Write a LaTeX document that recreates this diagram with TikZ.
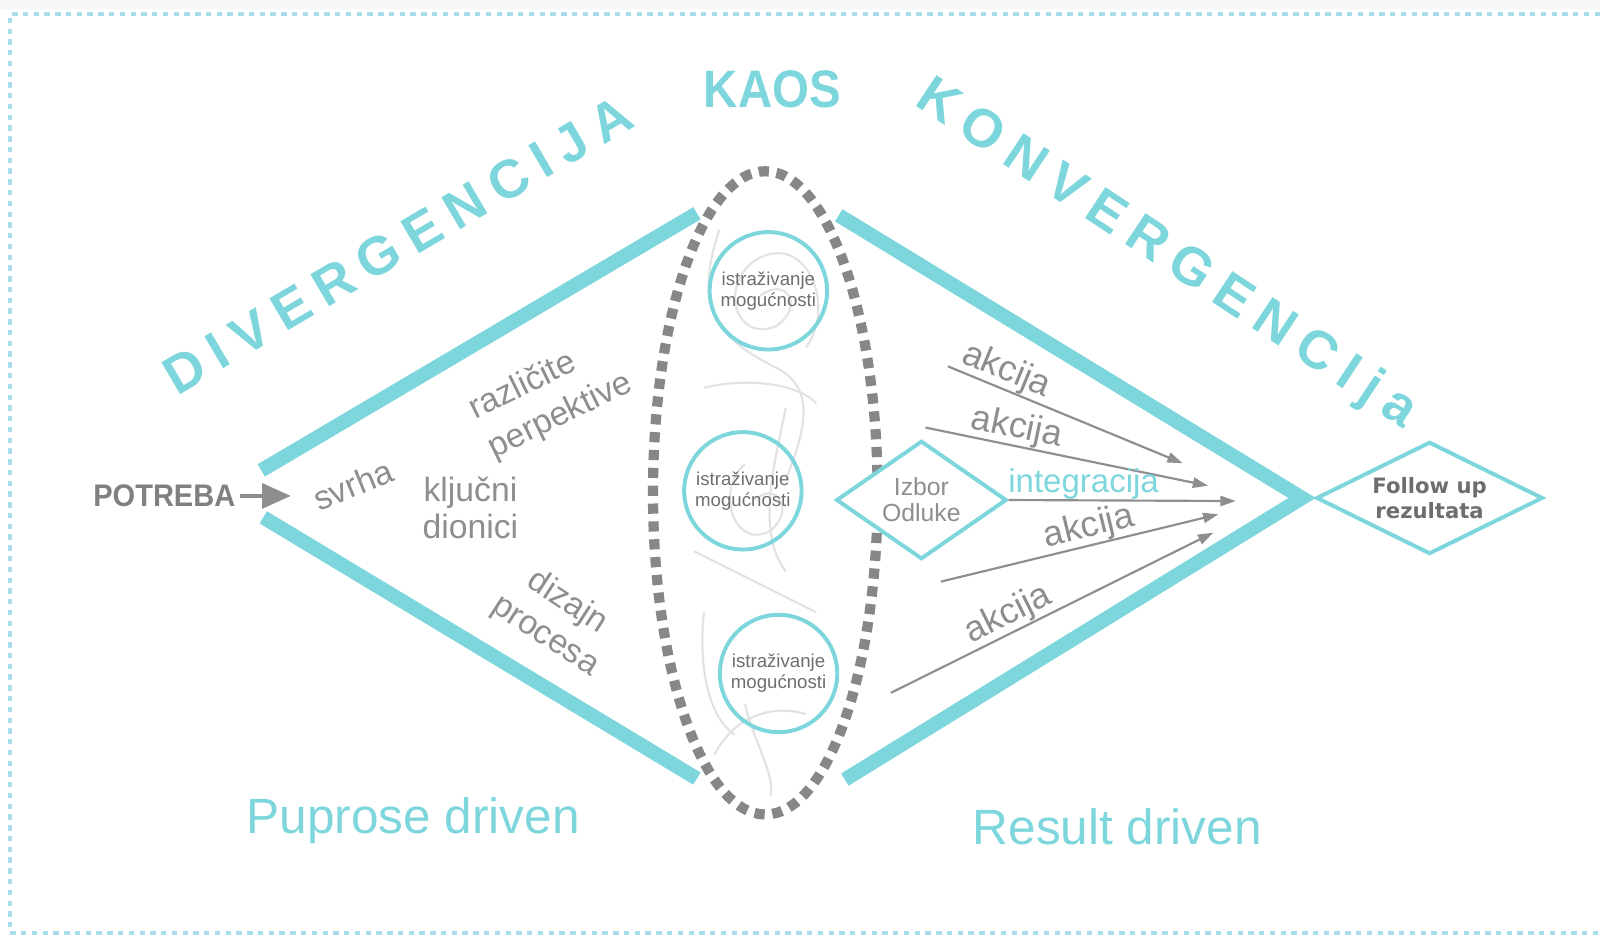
\documentclass[tikz,border=0pt]{standalone}
\usepackage{fontspec}
\setmainfont{Liberation Sans}
\newfontfamily\dejavu{DejaVu Sans}
\usepackage{tikz}
\usetikzlibrary{shapes.geometric,arrows.meta,positioning,calc}

\definecolor{kcyan}{HTML}{7ED6DD}
\definecolor{kgrey}{HTML}{8E8E8E}
\definecolor{kdark}{HTML}{6E6E6E}
\definecolor{kline}{HTML}{878787}
\definecolor{kscrib}{HTML}{E2E2E2}
\definecolor{kframe}{HTML}{A9DDEB}

\begin{document}
\begin{tikzpicture}[
    x=0.01cm, y=-0.01cm,
    side/.style={line width=0.14cm, kcyan},
    idea/.style={circle, draw=kcyan, line width=1.1pt, minimum size=1.15cm, inner sep=0pt, align=center, text=kdark, font=\fontsize{5.2}{5.8}\selectfont},
    choice/.style={diamond, draw=kcyan, fill=white, line width=1.1pt, inner sep=0pt, align=center},
    word/.style={text=kgrey, align=center, font=\fontsize{9.4}{10.4}\selectfont},
    big/.style={text=kcyan, font=\fontsize{13.8}{16}\selectfont},
    spaced/.style={text=kcyan, font={\fontsize{15}{16}\selectfont\bfseries\addfontfeature{LetterSpace=22}}},
    action/.style={-{Triangle[length=0.15cm,width=0.1cm]}, kgrey, line width=0.6pt},
    tag/.style={word, inner sep=0pt, font=\fontsize{10}{11}\selectfont},
    scribble/.style={kscrib, line width=0.6pt}
]

\useasboundingbox (0,0) rectangle (1568,917);
\fill[gray!6] (0,0) rectangle (1568,9);
\draw[kframe, line width=1.2pt, dash pattern=on 1.5pt off 1.5pt] (1568,14) -- (10,14) -- (10,914) -- (1568,914);

% scribbles inside the chaos
\draw[scribble] (705,225) .. controls (680,300) and (700,330) .. (760,360) .. controls (800,380) and (790,420) .. (770,470);
\draw[scribble] (745,290) .. controls (770,270) and (790,300) .. (760,320) .. controls (720,335) and (705,280) .. (740,255) .. controls (790,225) and (820,300) .. (790,340);
\draw[scribble] (690,380) .. controls (730,370) and (780,375) .. (800,395);
\draw[scribble] (770,400) .. controls (760,450) and (740,520) .. (770,560);
\draw[scribble] (740,490) .. controls (760,470) and (780,500) .. (755,520) .. controls (720,540) and (700,480) .. (730,455);
\draw[scribble] (680,540) .. controls (720,560) and (760,580) .. (800,600);
\draw[scribble] (690,600) .. controls (685,640) and (690,700) .. (720,720);
\draw[scribble] (730,690) .. controls (740,730) and (760,760) .. (755,780);
\draw[scribble] (700,740) .. controls (720,700) and (760,690) .. (790,700);

\node[ellipse, draw=kline, line width=0.1cm, dash pattern=on 0.1cm off 0.075cm, minimum width=2.2cm, minimum height=6.3cm] (chaos) at (750,483) {};

% diamond sides
\coordinate (tip) at (1276,488);
\draw[side] (256,461) -- (683,209);
\draw[side] (258,507) -- (683,763);
\draw[side, line join=miter] (822,211) -- (tip) -- (828,764);

% titles
\node[spaced, rotate=30.5] (div) at (390,240) {DIVERGENCIJA};
\node[spaced, rotate=-33.5] (konv) at (1143,250) {KONVERGENCIja};
\node[text=kcyan, font={\fontsize{14.7}{16}\selectfont\bfseries\addfontfeature{FakeStretch=0.9}}] (kaos) at (757,88) {KAOS};
\node[big] (purpose) at (405,804) {Puprose driven};
\node[big] (result) at (1095,810) {Result driven};

% left side
\node[text=kgrey!90!black, inner sep=1pt, font={\fontsize{8.7}{10}\selectfont\bfseries\addfontfeature{FakeStretch=0.93}}] (potreba) at (161,486) {POTREBA};
\coordinate (ulaz) at (285,486);
\draw[-{Triangle[length=0.28cm,width=0.24cm]}, kgrey, line width=1.2pt] (potreba) -- (ulaz);
\node[word, rotate=22] (svrha) at (346,475) {svrha};
\node[word] (dionici) at (461,498) {ključni\\dionici};
\node[word, rotate=26, align=left, font=\fontsize{9.4}{12}\selectfont] (perspektive) at (540,389) {različite\\perpektive};
\node[word, rotate=-33, font=\fontsize{9.4}{11.2}\selectfont] (dizajn) at (545,607) {dizajn\\procesa};

% chaos
\node[idea] (c1) at (753,285) {istraživanje\\mogućnosti};
\node[idea] (c2) at (728,481) {istraživanje\\mogućnosti};
\node[idea] (c3) at (763,660) {istraživanje\\mogućnosti};

% right side
\node[choice, minimum width=1.67cm, minimum height=1.16cm, aspect=1.44, text=kgrey, font=\fontsize{6.9}{7.2}\selectfont] (izbor) at (903,490) {Izbor\\Odluke};
\node[choice, minimum width=2.22cm, minimum height=1.10cm, aspect=2, text=kdark, font=\fontsize{5.9}{7}\selectfont\dejavu\bfseries] (follow) at (1401,488) {Follow up\\rezultata};

\coordinate (a1s) at (929,359);
\coordinate (a1e) at (1159,454);
\coordinate (a2s) at (907,419);
\coordinate (a2e) at (1184,476);
\coordinate (ie) at (1211,491);
\coordinate (a3s) at (922,570);
\coordinate (a3e) at (1194,504);
\coordinate (a4s) at (873,679);
\coordinate (a4e) at (1189,522);

\draw[action] (a1s) -- node[tag, sloped, above, pos=0.22] {akcija} (a1e);
\draw[action] (a2s) -- node[tag, sloped, above, pos=0.31] {akcija} (a2e);
\draw[action] (izbor.east) -- node[tag, above, pos=0.33, text=kcyan, font=\fontsize{9.2}{10}\selectfont] {integracija} (ie);
\draw[action] (a3s) -- node[tag, sloped, above, pos=0.55] {akcija} (a3e);
\draw[action] (a4s) -- node[tag, sloped, above, pos=0.39] {akcija} (a4e);

\end{tikzpicture}
\end{document}
